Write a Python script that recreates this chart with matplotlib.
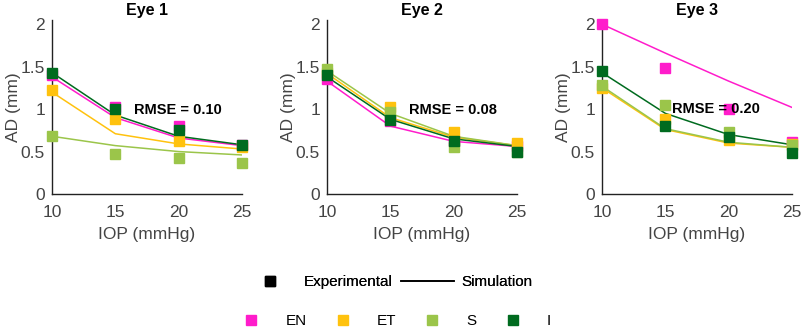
import matplotlib.pyplot as plt
from matplotlib.lines import Line2D

plt.rcParams['font.family'] = ['Liberation Sans', 'DejaVu Sans']

iop = [10, 15, 20, 25]
regions = ['EN', 'ET', 'S', 'I']
colors = {'EN': '#ff1ccb', 'ET': '#ffc20e', 'S': '#9bc54a', 'I': '#006b1f'}

# experimental AD (mm)
eye1_exp = {'EN': [1.40, 1.03, 0.80, 0.58], 'ET': [1.22, 0.88, 0.62, 0.55],
            'S': [0.68, 0.47, 0.43, 0.36], 'I': [1.43, 1.00, 0.75, 0.58]}
eye2_exp = {'EN': [1.35, 0.86, 0.63, 0.57], 'ET': [1.42, 1.03, 0.73, 0.60],
            'S': [1.47, 0.97, 0.55, 0.50], 'I': [1.40, 0.87, 0.63, 0.50]}
eye3_exp = {'EN': [2.00, 1.48, 1.00, 0.61], 'ET': [1.25, 0.88, 0.64, 0.59],
            'S': [1.29, 1.05, 0.73, 0.58], 'I': [1.45, 0.80, 0.67, 0.48]}

# simulated AD (mm)
eye1_sim = {'EN': [1.38, 0.90, 0.66, 0.57], 'ET': [1.20, 0.71, 0.59, 0.53],
            'S': [0.68, 0.57, 0.50, 0.46], 'I': [1.43, 0.93, 0.68, 0.58]}
eye2_sim = {'EN': [1.33, 0.80, 0.62, 0.56], 'ET': [1.42, 0.90, 0.67, 0.57],
            'S': [1.45, 0.95, 0.68, 0.57], 'I': [1.38, 0.88, 0.65, 0.56]}
eye3_sim = {'EN': [2.00, 1.66, 1.33, 1.02], 'ET': [1.25, 0.76, 0.60, 0.55],
            'S': [1.27, 0.77, 0.61, 0.55], 'I': [1.43, 0.95, 0.70, 0.58]}

titles = ['Eye 1', 'Eye 2', 'Eye 3']
rmse = ['0.10', '0.08', '0.20']
rmse_pos = [(16.5, 0.99), (16.45, 0.99), (15.5, 1.0)]

exps = [eye1_exp, eye2_exp, eye3_exp]
sims = [eye1_sim, eye2_sim, eye3_sim]
lefts = [52, 327, 602]

fig = plt.figure(figsize=(8.03, 3.27), dpi=100)
for k in range(3):
    ax = fig.add_axes([lefts[k] / 803, (327 - 194) / 327, 190 / 803, 174 / 327])
    for r in regions:
        ax.plot(iop, sims[k][r], color=colors[r], lw=1.1, zorder=2)
    for r in regions:
        ax.plot(iop, exps[k][r], 's', color=colors[r], ms=6.5, lw=0, zorder=3, clip_on=False)
    ax.text(rmse_pos[k][0], rmse_pos[k][1], 'RMSE = ' + rmse[k], fontsize=10.5,
            fontweight='bold', ha='left', va='center', zorder=4)
    ax.set_xlim(10, 25)
    ax.set_ylim(0, 2.05)
    ax.set_xticks(iop)
    ax.set_yticks([0, 0.5, 1, 1.5, 2])
    ax.set_yticklabels(['0', '0.5', '1', '1.5', '2'])
    ax.tick_params(length=0, labelsize=12.5, labelcolor='#444444', pad=5)
    ax.tick_params(axis='x', pad=8)
    for s in ['top', 'right']:
        ax.spines[s].set_visible(False)
    for s in ['left', 'bottom']:
        ax.spines[s].set_color('#222222')
        ax.spines[s].set_linewidth(1.0)
    ax.set_title(titles[k], fontsize=11.5, fontweight='bold', pad=3.5)
    ax.set_xlabel('IOP (mmHg)', fontsize=12.5, color='#444444')
    ax.set_ylabel('AD (mm)', fontsize=12.5, color='#444444')
    ax.xaxis.set_label_coords(0.5, -0.19)
    ax.yaxis.set_label_coords(-0.165, 0.5)

h1 = [Line2D([], [], marker='s', color='black', ls='none', ms=6.5),
      Line2D([], [], color='black', lw=1.2)]
leg1 = fig.legend(h1, ['Experimental', 'Simulation'], loc='center', ncol=2,
                  bbox_to_anchor=(0.483, 0.138), frameon=False, fontsize=11,
                  handlelength=3.5, handletextpad=0.5, columnspacing=0.5)
fig.add_artist(leg1)
h2 = [Line2D([], [], marker='s', color=colors[r], ls='none', ms=6.5) for r in regions]
fig.legend(h2, regions, loc='center', ncol=4, bbox_to_anchor=(0.483, 0.017),
           frameon=False, fontsize=11, handlelength=3.5, handletextpad=0.5,
           columnspacing=0.6)

fig.savefig('out.png', dpi=100)
